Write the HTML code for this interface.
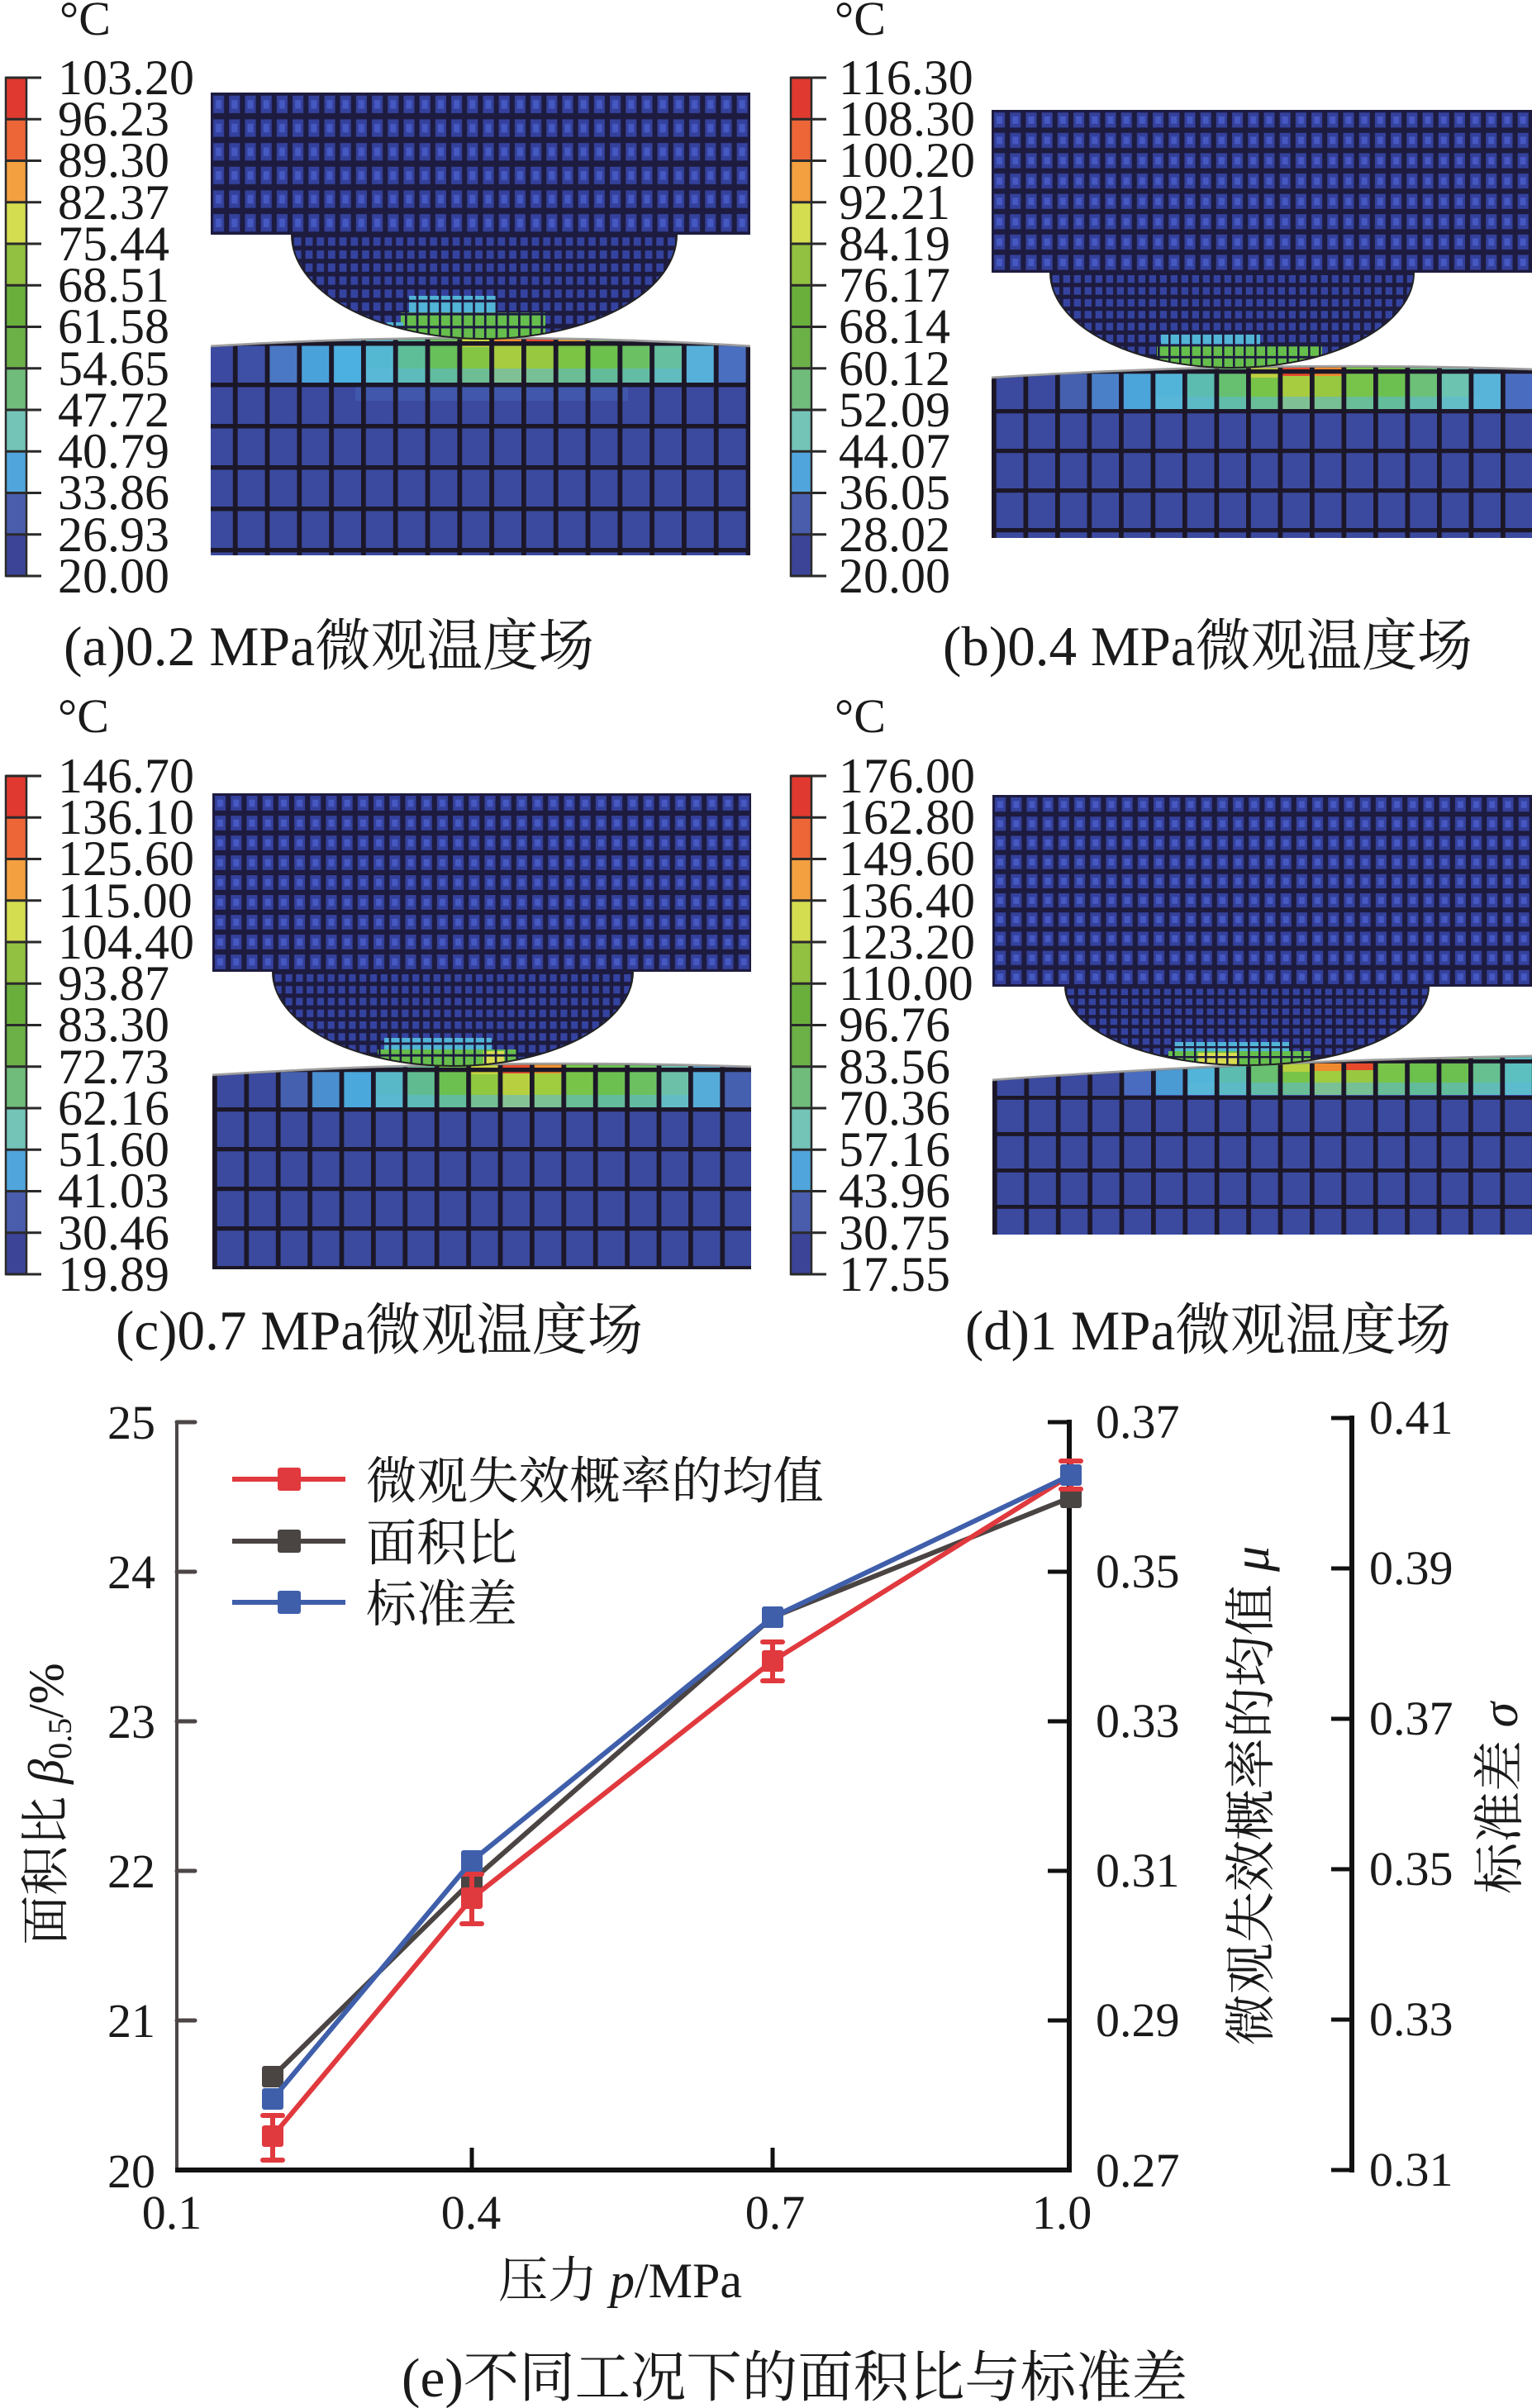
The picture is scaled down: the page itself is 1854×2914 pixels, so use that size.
<!DOCTYPE html>
<html><head><meta charset="utf-8"><style>
html,body{margin:0;padding:0;background:#fff;}
svg{display:block;}
text{font-family:"Liberation Serif","Noto Serif CJK SC",serif;fill:#1a1a1a;}
</style></head><body>
<svg xmlns="http://www.w3.org/2000/svg" width="1854" height="2914" viewBox="0 0 1854 2914">
<defs>
<pattern id="upA" patternUnits="userSpaceOnUse" x="255" y="112" width="19.2" height="28.67" viewBox="0 0 10 10" preserveAspectRatio="none"><rect width="10" height="10" fill="#1d1b3f"/><rect x="1.6" y="1.3" width="6.8" height="7.4" fill="#34419c"/><rect x="3.2" y="3.2" width="3.6" height="3.6" fill="#4658c2"/></pattern>
<pattern id="upB" patternUnits="userSpaceOnUse" x="1200" y="133" width="19.2" height="24.6" viewBox="0 0 10 10" preserveAspectRatio="none"><rect width="10" height="10" fill="#1d1b3f"/><rect x="1.6" y="1.3" width="6.8" height="7.4" fill="#34419c"/><rect x="3.2" y="3.2" width="3.6" height="3.6" fill="#4658c2"/></pattern>
<pattern id="upC" patternUnits="userSpaceOnUse" x="257" y="960" width="19.2" height="24" viewBox="0 0 10 10" preserveAspectRatio="none"><rect width="10" height="10" fill="#1d1b3f"/><rect x="1.6" y="1.3" width="6.8" height="7.4" fill="#34419c"/><rect x="3.2" y="3.2" width="3.6" height="3.6" fill="#4658c2"/></pattern>
<pattern id="upD" patternUnits="userSpaceOnUse" x="1201" y="962" width="19.2" height="23.2" viewBox="0 0 10 10" preserveAspectRatio="none"><rect width="10" height="10" fill="#1d1b3f"/><rect x="1.6" y="1.3" width="6.8" height="7.4" fill="#34419c"/><rect x="3.2" y="3.2" width="3.6" height="3.6" fill="#4658c2"/></pattern>
<pattern id="heA" patternUnits="userSpaceOnUse" x="353" y="284" width="13.7" height="15.75" viewBox="0 0 10 10" preserveAspectRatio="none"><rect width="10" height="10" fill="#1d1b3f"/><rect x="2" y="2" width="6.5" height="6.5" fill="#3543a0"/></pattern>
<pattern id="heB" patternUnits="userSpaceOnUse" x="1271" y="330" width="13" height="14.4" viewBox="0 0 10 10" preserveAspectRatio="none"><rect width="10" height="10" fill="#1d1b3f"/><rect x="2" y="2" width="6.5" height="6.5" fill="#3543a0"/></pattern>
<pattern id="heC" patternUnits="userSpaceOnUse" x="330" y="1176" width="12.8" height="14.25" viewBox="0 0 10 10" preserveAspectRatio="none"><rect width="10" height="10" fill="#1d1b3f"/><rect x="2" y="2" width="6.5" height="6.5" fill="#3543a0"/></pattern>
<pattern id="heD" patternUnits="userSpaceOnUse" x="1289" y="1194" width="13" height="12" viewBox="0 0 10 10" preserveAspectRatio="none"><rect width="10" height="10" fill="#1d1b3f"/><rect x="2" y="2" width="6.5" height="6.5" fill="#3543a0"/></pattern>
<pattern id="hlA" patternUnits="userSpaceOnUse" x="353" y="284" width="13.7" height="15.75" viewBox="0 0 10 10" preserveAspectRatio="none"><rect width="10" height="2" fill="#1d1b3f"/><rect width="2" height="10" fill="#1d1b3f"/></pattern>
<pattern id="hlB" patternUnits="userSpaceOnUse" x="1271" y="330" width="13" height="14.4" viewBox="0 0 10 10" preserveAspectRatio="none"><rect width="10" height="2" fill="#1d1b3f"/><rect width="2" height="10" fill="#1d1b3f"/></pattern>
<pattern id="hlC" patternUnits="userSpaceOnUse" x="330" y="1176" width="12.8" height="14.25" viewBox="0 0 10 10" preserveAspectRatio="none"><rect width="10" height="2" fill="#1d1b3f"/><rect width="2" height="10" fill="#1d1b3f"/></pattern>
<pattern id="hlD" patternUnits="userSpaceOnUse" x="1289" y="1194" width="13" height="12" viewBox="0 0 10 10" preserveAspectRatio="none"><rect width="10" height="2" fill="#1d1b3f"/><rect width="2" height="10" fill="#1d1b3f"/></pattern>
<pattern id="loA" patternUnits="userSpaceOnUse" x="243" y="413" width="38.8" height="50" viewBox="0 0 10 10" preserveAspectRatio="none"><rect width="10" height="1.1" fill="#1c1728"/><rect width="1.5" height="10" fill="#1c1728"/></pattern>
<pattern id="loB" patternUnits="userSpaceOnUse" x="1200" y="447" width="38.5" height="48" viewBox="0 0 10 10" preserveAspectRatio="none"><rect width="10" height="1.1" fill="#1c1728"/><rect width="1.5" height="10" fill="#1c1728"/></pattern>
<pattern id="loC" patternUnits="userSpaceOnUse" x="257" y="1292" width="38.4" height="48" viewBox="0 0 10 10" preserveAspectRatio="none"><rect width="10" height="1.1" fill="#1c1728"/><rect width="1.5" height="10" fill="#1c1728"/></pattern>
<pattern id="loD" patternUnits="userSpaceOnUse" x="1201" y="1282" width="38.4" height="44" viewBox="0 0 10 10" preserveAspectRatio="none"><rect width="10" height="1.1" fill="#1c1728"/><rect width="1.5" height="10" fill="#1c1728"/></pattern>
<clipPath id="cLoA"><path d="M255,420 Q582,400 908,420 L908,672 L255,672 Z"/></clipPath>
<clipPath id="cLoB"><path d="M1200,458 Q1527,437 1854,448 L1854,651 L1200,651 Z"/></clipPath>
<clipPath id="cLoC"><path d="M257,1302 Q582,1281 909,1292 L909,1536 L257,1536 Z"/></clipPath>
<clipPath id="cLoD"><path d="M1201,1308 Q1527,1284.5 1854,1279 L1854,1494 L1201,1494 Z"/></clipPath>
<clipPath id="cHeA"><path d="M353,284 A233,126 0 0 0 819,284 Z"/></clipPath>
<clipPath id="cHeB"><path d="M1271,330 A220,115 0 0 0 1711,330 Z"/></clipPath>
<clipPath id="cHeC"><path d="M330,1176 A218,114 0 0 0 766,1176 Z"/></clipPath>
<clipPath id="cHeD"><path d="M1289,1194 A220,95 0 0 0 1729,1194 Z"/></clipPath>
</defs>

<!-- ================= PANEL A ================= -->
<path d="M255,420 Q582,400 908,420 L908,672 L255,672 Z" fill="#3b4a9f"/>
<g clip-path="url(#cLoA)">
<g transform="translate(0,0)">
<rect x="243" y="390" width="39" height="73" fill="#3b4aa0"/>
<rect x="281.8" y="390" width="39" height="73" fill="#3d50a6"/>
<rect x="320.6" y="390" width="39" height="73" fill="#4a78c4"/>
<rect x="359.4" y="390" width="39" height="73" fill="#4aa2da"/>
<rect x="398.2" y="390" width="39" height="73" fill="#4cb0e0"/>
<rect x="437" y="390" width="39" height="73" fill="#54b8d2"/>
<rect x="475.8" y="390" width="39" height="73" fill="#5ebe98"/>
<rect x="514.6" y="390" width="39" height="73" fill="#68c05a"/>
<rect x="553.4" y="390" width="39" height="73" fill="#84c644"/>
<rect x="592.2" y="390" width="39" height="73" fill="#a8cc40"/>
<rect x="631" y="390" width="39" height="73" fill="#98c840"/>
<rect x="669.8" y="390" width="39" height="73" fill="#7cc444"/>
<rect x="708.6" y="390" width="39" height="73" fill="#6cc04c"/>
<rect x="747.4" y="390" width="39" height="73" fill="#6cc064"/>
<rect x="786.2" y="390" width="39" height="73" fill="#66c0a0"/>
<rect x="825" y="390" width="39" height="73" fill="#56b0da"/>
<rect x="863.8" y="390" width="39" height="73" fill="#4a6ec0"/>
<rect x="553.4" y="390" width="39" height="30" fill="#c8d440"/>
<rect x="592.2" y="390" width="39" height="28" fill="#f08a30"/>
<rect x="631" y="390" width="39" height="27" fill="#e8452c"/>
<rect x="669.8" y="390" width="39" height="26" fill="#f0a030"/>
<rect x="437" y="446" width="388" height="17" fill="#5cb8d8" opacity=".55"/>
<rect x="430" y="463" width="330" height="22" fill="#4460b4" opacity=".6"/>
</g>
<rect x="243" y="380" width="680" height="300" fill="url(#loA)"/>
</g>
<path d="M255,419 Q582,399 908,419" fill="none" stroke="#777" stroke-width="3" opacity=".7"/>
<rect x="255" y="112" width="653" height="172" fill="url(#upA)"/>
<path d="M353,284 A233,126 0 0 0 819,284 Z" fill="url(#heA)"/>
<g clip-path="url(#cHeA)">
<rect x="495" y="358" width="105" height="22" fill="#52b4d6"/>
<rect x="485" y="378" width="175" height="34" fill="#66be4c"/>
<rect x="468" y="390" width="20" height="22" fill="#52b4d6"/>
<rect x="353" y="284" width="466" height="130" fill="url(#hlA)"/>
</g>
<path d="M353,284 A233,126 0 0 0 819,284" fill="none" stroke="#222" stroke-width="2"/>

<!-- ================= PANEL B ================= -->
<path d="M1200,458 Q1527,437 1854,448 L1854,651 L1200,651 Z" fill="#3b4a9f"/>
<g clip-path="url(#cLoB)">
<rect x="1277" y="425" width="39" height="71" fill="#4660b0"/>
<rect x="1315.5" y="425" width="39" height="71" fill="#4a80c8"/>
<rect x="1354" y="425" width="39" height="71" fill="#4ba4da"/>
<rect x="1392.5" y="425" width="39" height="71" fill="#52b4d8"/>
<rect x="1431" y="425" width="39" height="71" fill="#5cbcb0"/>
<rect x="1469.5" y="425" width="39" height="71" fill="#66c070"/>
<rect x="1508" y="425" width="39" height="71" fill="#78c448"/>
<rect x="1546.5" y="425" width="39" height="71" fill="#a8cc40"/>
<rect x="1585" y="425" width="39" height="71" fill="#98c840"/>
<rect x="1623.5" y="425" width="39" height="71" fill="#78c44a"/>
<rect x="1662" y="425" width="39" height="71" fill="#6cc050"/>
<rect x="1700.5" y="425" width="39" height="71" fill="#6cc078"/>
<rect x="1739" y="425" width="39" height="71" fill="#6cc4b0"/>
<rect x="1777.5" y="425" width="39" height="71" fill="#58b4d8"/>
<rect x="1816" y="425" width="39" height="71" fill="#4a6cc0"/>
<rect x="1508" y="425" width="39" height="32" fill="#c0d040"/>
<rect x="1546.5" y="425" width="39" height="30" fill="#e84a2c"/>
<rect x="1585" y="425" width="39" height="30" fill="#f08a30"/>
<rect x="1392" y="480" width="400" height="16" fill="#5cb8d8" opacity=".55"/>
<rect x="1200" y="420" width="660" height="240" fill="url(#loB)"/>
</g>
<path d="M1200,457 Q1527,436 1854,447" fill="none" stroke="#777" stroke-width="3" opacity=".7"/>
<rect x="1200" y="133" width="654" height="197" fill="url(#upB)"/>
<path d="M1271,330 A220,115 0 0 0 1711,330 Z" fill="url(#heB)"/>
<g clip-path="url(#cHeB)">
<rect x="1405" y="402" width="120" height="18" fill="#52b4d6"/>
<rect x="1400" y="418" width="200" height="30" fill="#66be4c"/>
<rect x="1271" y="330" width="440" height="120" fill="url(#hlB)"/>
</g>
<path d="M1271,330 A220,115 0 0 0 1711,330" fill="none" stroke="#222" stroke-width="2"/>

<!-- ================= PANEL C ================= -->
<path d="M257,1302 Q582,1281 909,1292 L909,1536 L257,1536 Z" fill="#3b4a9f"/>
<g clip-path="url(#cLoC)">
<rect x="333.8" y="1270" width="39" height="70" fill="#4660b0"/>
<rect x="372.2" y="1270" width="39" height="70" fill="#4a90d0"/>
<rect x="410.6" y="1270" width="39" height="70" fill="#4aa8dc"/>
<rect x="449" y="1270" width="39" height="70" fill="#58b8c8"/>
<rect x="487.4" y="1270" width="39" height="70" fill="#60bc90"/>
<rect x="525.8" y="1270" width="39" height="70" fill="#6cc050"/>
<rect x="564.2" y="1270" width="39" height="70" fill="#90c840"/>
<rect x="602.6" y="1270" width="39" height="70" fill="#b8d040"/>
<rect x="641" y="1270" width="39" height="70" fill="#a0cc40"/>
<rect x="679.4" y="1270" width="39" height="70" fill="#78c448"/>
<rect x="717.8" y="1270" width="39" height="70" fill="#6cc050"/>
<rect x="756.2" y="1270" width="39" height="70" fill="#6cc060"/>
<rect x="794.6" y="1270" width="39" height="70" fill="#6cc0a8"/>
<rect x="833" y="1270" width="39" height="70" fill="#56acd8"/>
<rect x="871.4" y="1270" width="39" height="70" fill="#4660b0"/>
<rect x="564.2" y="1270" width="39" height="30" fill="#c8d440"/>
<rect x="602.6" y="1270" width="39" height="29" fill="#e84a2c"/>
<rect x="641" y="1270" width="39" height="29" fill="#f09030"/>
<rect x="449" y="1325" width="390" height="15" fill="#5cb8d8" opacity=".55"/>
<rect x="257" y="1260" width="660" height="280" fill="url(#loC)"/>
</g>
<path d="M257,1301 Q582,1280 909,1291" fill="none" stroke="#777" stroke-width="3" opacity=".7"/>
<rect x="257" y="960" width="652" height="216" fill="url(#upC)"/>
<path d="M330,1176 A218,114 0 0 0 766,1176 Z" fill="url(#heC)"/>
<g clip-path="url(#cHeC)">
<rect x="465" y="1256" width="130" height="16" fill="#52b4d6"/>
<rect x="457" y="1270" width="168" height="22" fill="#66be4c"/>
<rect x="585" y="1272" width="25" height="18" fill="#d8dc50"/>
<rect x="330" y="1176" width="436" height="118" fill="url(#hlC)"/>
</g>
<path d="M330,1176 A218,114 0 0 0 766,1176" fill="none" stroke="#222" stroke-width="2"/>

<!-- ================= PANEL D ================= -->
<path d="M1201,1308 Q1527,1284.5 1854,1279 L1854,1494 L1201,1494 Z" fill="#3b4a9f"/>
<g clip-path="url(#cLoD)">
<rect x="1354.6" y="1265" width="39" height="60" fill="#4a6cc0"/>
<rect x="1393" y="1265" width="39" height="60" fill="#4a9ad4"/>
<rect x="1431.4" y="1265" width="39" height="60" fill="#52b4d8"/>
<rect x="1469.8" y="1265" width="39" height="60" fill="#5cbcb0"/>
<rect x="1508.2" y="1265" width="39" height="60" fill="#68c070"/>
<rect x="1546.6" y="1265" width="39" height="60" fill="#78c448"/>
<rect x="1585" y="1265" width="39" height="60" fill="#a0cc40"/>
<rect x="1623.4" y="1265" width="39" height="60" fill="#98c840"/>
<rect x="1661.8" y="1265" width="39" height="60" fill="#78c448"/>
<rect x="1700.2" y="1265" width="39" height="60" fill="#6cc04c"/>
<rect x="1738.6" y="1265" width="39" height="60" fill="#6cc050"/>
<rect x="1777" y="1265" width="39" height="60" fill="#66c090"/>
<rect x="1815.4" y="1265" width="39" height="60" fill="#5cc0c0"/>
<rect x="1546.6" y="1265" width="39" height="32" fill="#b8d040"/>
<rect x="1585" y="1265" width="39" height="31" fill="#f08a30"/>
<rect x="1623.4" y="1265" width="39" height="30" fill="#e84a2c"/>
<rect x="1431" y="1310" width="423" height="15" fill="#5cb8d8" opacity=".55"/>
<rect x="1201" y="1260" width="660" height="240" fill="url(#loD)"/>
</g>
<path d="M1201,1307 Q1527,1283.5 1854,1278" fill="none" stroke="#777" stroke-width="3" opacity=".7"/>
<rect x="1201" y="962" width="653" height="232" fill="url(#upD)"/>
<path d="M1289,1194 A220,95 0 0 0 1729,1194 Z" fill="url(#heD)"/>
<g clip-path="url(#cHeD)">
<rect x="1420" y="1261" width="140" height="12" fill="#52b4d6"/>
<rect x="1414" y="1272" width="172" height="18" fill="#66be4c"/>
<rect x="1450" y="1274" width="48" height="15" fill="#d8dc50"/>
<rect x="1289" y="1194" width="440" height="98" fill="url(#hlD)"/>
</g>
<path d="M1289,1194 A220,95 0 0 0 1729,1194" fill="none" stroke="#222" stroke-width="2"/>

<!-- ================= COLORBARS ================= -->
<g id="cbar">
<rect x="7" y="94" width="25" height="50.25" fill="#e03a30"/>
<rect x="7" y="144.25" width="25" height="50.25" fill="#ec6638"/>
<rect x="7" y="194.5" width="25" height="50.25" fill="#f2a040"/>
<rect x="7" y="244.75" width="25" height="50.25" fill="#d4dc50"/>
<rect x="7" y="295" width="25" height="50.25" fill="#92c040"/>
<rect x="7" y="345.25" width="25" height="50.25" fill="#6aaf3c"/>
<rect x="7" y="395.5" width="25" height="50.25" fill="#6cb048"/>
<rect x="7" y="445.75" width="25" height="50.25" fill="#70bc7a"/>
<rect x="7" y="496" width="25" height="50.25" fill="#74c4b8"/>
<rect x="7" y="546.25" width="25" height="50.25" fill="#50a6dc"/>
<rect x="7" y="596.5" width="25" height="50.25" fill="#4a5cac"/>
<rect x="7" y="646.75" width="25" height="50.25" fill="#3c4498"/>
<rect x="7" y="94" width="25" height="603" fill="none" stroke="#2a2a2a" stroke-width="2.5"/>
<g stroke="#2a2a2a" stroke-width="3">
<line x1="7" x2="50" y1="94" y2="94"/><line x1="7" x2="50" y1="144.25" y2="144.25"/><line x1="7" x2="50" y1="194.5" y2="194.5"/><line x1="7" x2="50" y1="244.75" y2="244.75"/><line x1="7" x2="50" y1="295" y2="295"/><line x1="7" x2="50" y1="345.25" y2="345.25"/><line x1="7" x2="50" y1="395.5" y2="395.5"/><line x1="7" x2="50" y1="445.75" y2="445.75"/><line x1="7" x2="50" y1="496" y2="496"/><line x1="7" x2="50" y1="546.25" y2="546.25"/><line x1="7" x2="50" y1="596.5" y2="596.5"/><line x1="7" x2="50" y1="646.75" y2="646.75"/><line x1="7" x2="50" y1="697" y2="697"/>
</g>
</g>
<use href="#cbar" transform="translate(950,0)"/>
<use href="#cbar" transform="translate(0,845)"/>
<use href="#cbar" transform="translate(950,845)"/>

<g font-size="60">
<text x="70" y="114">103.20</text><text x="70" y="164">96.23</text><text x="70" y="214">89.30</text><text x="70" y="265">82.37</text><text x="70" y="315">75.44</text><text x="70" y="365">68.51</text><text x="70" y="415">61.58</text><text x="70" y="466">54.65</text><text x="70" y="516">47.72</text><text x="70" y="566">40.79</text><text x="70" y="616">33.86</text><text x="70" y="667">26.93</text><text x="70" y="717">20.00</text>
<text x="1015" y="114">116.30</text><text x="1015" y="164">108.30</text><text x="1015" y="214">100.20</text><text x="1015" y="265">92.21</text><text x="1015" y="315">84.19</text><text x="1015" y="365">76.17</text><text x="1015" y="415">68.14</text><text x="1015" y="466">60.12</text><text x="1015" y="516">52.09</text><text x="1015" y="566">44.07</text><text x="1015" y="616">36.05</text><text x="1015" y="667">28.02</text><text x="1015" y="717">20.00</text>
<text x="70" y="959">146.70</text><text x="70" y="1009">136.10</text><text x="70" y="1059">125.60</text><text x="70" y="1110">115.00</text><text x="70" y="1160">104.40</text><text x="70" y="1210">93.87</text><text x="70" y="1260">83.30</text><text x="70" y="1311">72.73</text><text x="70" y="1361">62.16</text><text x="70" y="1411">51.60</text><text x="70" y="1461">41.03</text><text x="70" y="1512">30.46</text><text x="70" y="1562">19.89</text>
<text x="1015" y="959">176.00</text><text x="1015" y="1009">162.80</text><text x="1015" y="1059">149.60</text><text x="1015" y="1110">136.40</text><text x="1015" y="1160">123.20</text><text x="1015" y="1210">110.00</text><text x="1015" y="1260">96.76</text><text x="1015" y="1311">83.56</text><text x="1015" y="1361">70.36</text><text x="1015" y="1411">57.16</text><text x="1015" y="1461">43.96</text><text x="1015" y="1512">30.75</text><text x="1015" y="1562">17.55</text>
</g>
<g font-size="58">
<text x="72" y="42">°C</text><text x="1010" y="42">°C</text>
<text x="70" y="886">°C</text><text x="1010" y="886">°C</text>
</g>

<!-- captions -->
<g font-size="68">
<text x="77" y="805" textLength="642" lengthAdjust="spacingAndGlyphs">(a)0.2 MPa微观温度场</text>
<text x="1141" y="805" textLength="641" lengthAdjust="spacingAndGlyphs">(b)0.4 MPa微观温度场</text>
<text x="140" y="1633" textLength="638" lengthAdjust="spacingAndGlyphs">(c)0.7 MPa微观温度场</text>
<text x="1168" y="1633" textLength="588" lengthAdjust="spacingAndGlyphs">(d)1 MPa微观温度场</text>
</g>

<!-- ================= CHART ================= -->
<!-- left axis -->
<line x1="214" y1="1719" x2="214" y2="2628" stroke="#4d4646" stroke-width="4"/>
<g stroke="#4d4646" stroke-width="5" stroke-linecap="round">
<line x1="214" x2="236" y1="1721" y2="1721"/><line x1="214" x2="236" y1="1902" y2="1902"/><line x1="214" x2="236" y1="2083" y2="2083"/><line x1="214" x2="236" y1="2264" y2="2264"/><line x1="214" x2="236" y1="2445" y2="2445"/>
</g>
<g font-size="58" text-anchor="end">
<text x="188" y="1741">25</text><text x="188" y="1922">24</text><text x="188" y="2103">23</text><text x="188" y="2284">22</text><text x="188" y="2465">21</text><text x="188" y="2647">20</text>
</g>
<!-- x axis -->
<line x1="212" y1="2626" x2="1297" y2="2626" stroke="#111" stroke-width="6"/>
<g stroke="#111" stroke-width="5">
<line x1="571" x2="571" y1="2626" y2="2599"/><line x1="935" x2="935" y1="2626" y2="2599"/>
</g>
<g font-size="58" text-anchor="middle">
<text x="208" y="2697">0.1</text><text x="570" y="2697">0.4</text><text x="938" y="2697">0.7</text><text x="1285" y="2697">1.0</text>
</g>
<!-- right axis 1 -->
<line x1="1294" y1="1718" x2="1294" y2="2629" stroke="#111" stroke-width="6"/>
<g stroke="#111" stroke-width="5">
<line x1="1268" x2="1294" y1="1721" y2="1721"/><line x1="1268" x2="1294" y1="1902" y2="1902"/><line x1="1268" x2="1294" y1="2083" y2="2083"/><line x1="1268" x2="1294" y1="2264" y2="2264"/><line x1="1268" x2="1294" y1="2445" y2="2445"/><line x1="1268" x2="1294" y1="2626" y2="2626"/>
</g>
<g font-size="58">
<text x="1326" y="1740">0.37</text><text x="1326" y="1921">0.35</text><text x="1326" y="2102">0.33</text><text x="1326" y="2283">0.31</text><text x="1326" y="2464">0.29</text><text x="1326" y="2646">0.27</text>
</g>
<!-- right axis 2 -->
<line x1="1636" y1="1713" x2="1636" y2="2629" stroke="#111" stroke-width="6"/>
<g stroke="#111" stroke-width="5">
<line x1="1611" x2="1636" y1="1716" y2="1716"/><line x1="1611" x2="1636" y1="1898" y2="1898"/><line x1="1611" x2="1636" y1="2080" y2="2080"/><line x1="1611" x2="1636" y1="2262" y2="2262"/><line x1="1611" x2="1636" y1="2444" y2="2444"/><line x1="1611" x2="1636" y1="2626" y2="2626"/>
</g>
<g font-size="58">
<text x="1657" y="1735">0.41</text><text x="1657" y="1917">0.39</text><text x="1657" y="2099">0.37</text><text x="1657" y="2281">0.35</text><text x="1657" y="2463">0.33</text><text x="1657" y="2645">0.31</text>
</g>

<!-- axis titles -->
<text transform="translate(76,2183) rotate(-90)" text-anchor="middle" font-size="60">面积比 <tspan font-style="italic">β</tspan><tspan font-size="40" dy="10">0.5</tspan><tspan dy="-10">/%</tspan></text>
<text transform="translate(1535,2173) rotate(-90)" text-anchor="middle" font-size="62">微观失效概率的均值 <tspan font-style="italic">μ</tspan></text>
<text transform="translate(1836,2176) rotate(-90)" text-anchor="middle" font-size="62">标准差 <tspan font-style="italic">σ</tspan></text>
<text x="603" y="2780" font-size="60">压力 <tspan font-style="italic">p</tspan>/MPa</text>
<text x="486" y="2900" font-size="67" textLength="951" lengthAdjust="spacingAndGlyphs">(e)不同工况下的面积比与标准差</text>

<!-- series: black -->
<polyline points="330,2513 571,2276 935,1957 1296,1812" fill="none" stroke="#4a4443" stroke-width="6" stroke-linejoin="round"/>
<g fill="#4a4443">
<rect x="317" y="2500" width="26" height="26" rx="3"/><rect x="558" y="2263" width="26" height="26" rx="3"/><rect x="922" y="1944" width="26" height="26" rx="3"/><rect x="1283" y="1799" width="26" height="26" rx="3"/>
</g>
<!-- series: red -->
<polyline points="330,2585 571,2297 935,2010 1296,1785" fill="none" stroke="#e0393e" stroke-width="6" stroke-linejoin="round"/>
<g stroke="#e0393e" stroke-width="6" stroke-linecap="round">
<line x1="330" x2="330" y1="2560" y2="2614"/><line x1="318" x2="342" y1="2560" y2="2560"/><line x1="318" x2="342" y1="2614" y2="2614"/>
<line x1="571" x2="571" y1="2268" y2="2328"/><line x1="559" x2="583" y1="2268" y2="2268"/><line x1="559" x2="583" y1="2328" y2="2328"/>
<line x1="935" x2="935" y1="1987" y2="2034"/><line x1="923" x2="947" y1="1987" y2="1987"/><line x1="923" x2="947" y1="2034" y2="2034"/>
<line x1="1296" x2="1296" y1="1768" y2="1802"/><line x1="1284" x2="1308" y1="1768" y2="1768"/><line x1="1284" x2="1308" y1="1802" y2="1802"/>
</g>
<g fill="#e0393e">
<rect x="317" y="2572" width="26" height="26" rx="3"/><rect x="558" y="2284" width="26" height="26" rx="3"/><rect x="922" y="1997" width="26" height="26" rx="3"/><rect x="1283" y="1772" width="26" height="26" rx="3"/>
</g>
<!-- series: blue -->
<polyline points="330,2540 571,2252 935,1957 1296,1785" fill="none" stroke="#3f5fab" stroke-width="6" stroke-linejoin="round"/>
<g fill="#3f5fab">
<rect x="317" y="2527" width="26" height="26" rx="3"/><rect x="558" y="2239" width="26" height="26" rx="3"/><rect x="922" y="1944" width="26" height="26" rx="3"/><rect x="1283" y="1772" width="26" height="26" rx="3"/>
</g>

<!-- legend -->
<line x1="281" x2="418" y1="1790" y2="1790" stroke="#e0393e" stroke-width="6"/>
<rect x="336" y="1776" width="28" height="28" rx="3" fill="#e0393e"/>
<line x1="281" x2="418" y1="1865" y2="1865" stroke="#4a4443" stroke-width="6"/>
<rect x="336" y="1851" width="28" height="28" rx="3" fill="#4a4443"/>
<line x1="281" x2="418" y1="1939" y2="1939" stroke="#3f5fab" stroke-width="6"/>
<rect x="336" y="1925" width="28" height="28" rx="3" fill="#3f5fab"/>
<g font-size="61">
<text x="443" y="1813" textLength="554" lengthAdjust="spacingAndGlyphs">微观失效概率的均值</text>
<text x="443" y="1888">面积比</text>
<text x="443" y="1962">标准差</text>
</g>
</svg>
</body></html>
